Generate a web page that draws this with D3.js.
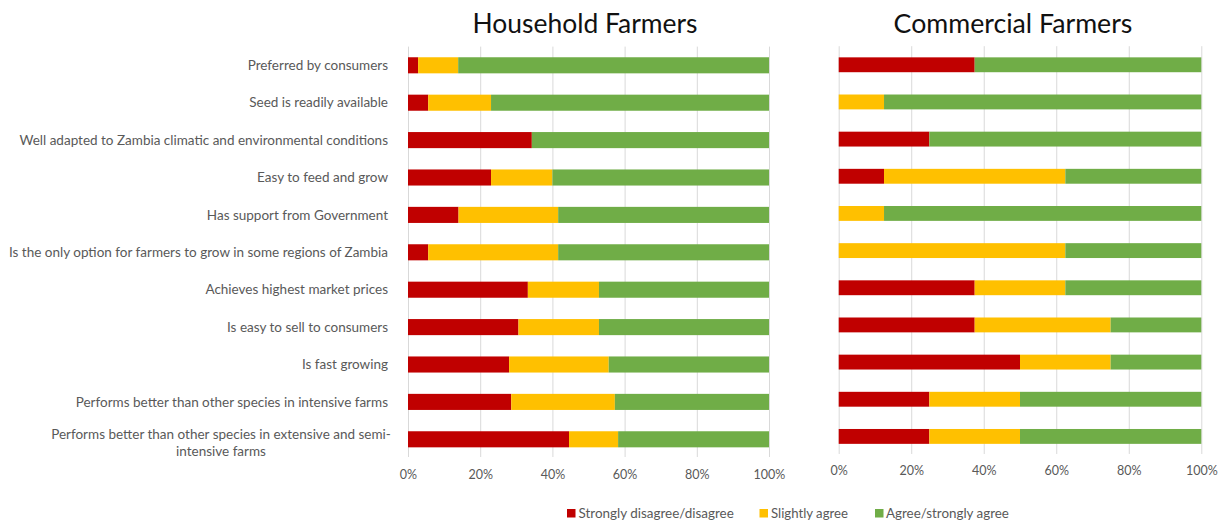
<!DOCTYPE html>
<html>
<head>
<meta charset="utf-8">
<script src="https://cdn.jsdelivr.net/npm/d3@7"></script>
<style>
  html, body { margin: 0; padding: 0; background: #fff; }
  svg { display: block; }
</style>
</head>
<body>
<svg id="chart" width="1227" height="522"></svg>
<script>
// ---------- DATA ----------
const categories = [
  "Preferred by consumers",
  "Seed is readily available",
  "Well adapted to Zambia climatic and environmental conditions",
  "Easy to feed and grow",
  "Has support from Government",
  "Is the only option for farmers to grow in some regions of Zambia",
  "Achieves highest market prices",
  "Is easy to sell to consumers",
  "Is fast growing",
  "Performs better than other species in intensive farms",
  "Performs better than other species in extensive and semi-intensive farms"
];
const seriesNames = ["Strongly disagree/disagree", "Slightly agree", "Agree/strongly agree"];

// Household farmers (%)
const householdDisagree = [2.8, 5.6, 34.3, 23.0, 14.0, 5.6, 33.2, 30.6, 28.0, 28.6, 44.6];
const householdSlightly = [11.1, 17.4, 0.0, 17.0, 27.6, 36.0, 19.7, 22.3, 27.6, 28.7, 13.6];
const householdAgree    = [86.1, 77.0, 65.7, 60.0, 58.4, 58.4, 47.1, 47.1, 44.4, 42.7, 41.8];

// Commercial farmers (%)
const commercialDisagree = [37.5, 0.0, 25.0, 12.5, 0.0, 0.0, 37.5, 37.5, 50.0, 25.0, 25.0];
const commercialSlightly = [0.0, 12.5, 0.0, 50.0, 12.5, 62.5, 25.0, 37.5, 25.0, 25.0, 25.0];
const commercialAgree    = [62.5, 87.5, 75.0, 37.5, 87.5, 37.5, 37.5, 25.0, 25.0, 50.0, 50.0];

const tickValues = [0, 20, 40, 60, 80, 100];
const titles = ["Household Farmers", "Commercial Farmers"];

// ---------- STYLE ----------
const colors = ["#C00000", "#FFC000", "#70AD47"];
const textColor = "#595959";
const gridColor = "#D9D9D9";
const FONT = "Lato, 'Open Sans', 'DejaVu Sans', sans-serif";

const svg = d3.select("#chart");

function buildRows(a, b, c) {
  return categories.map((cat, i) => ({ cat, v: [a[i], b[i], c[i]] }));
}

const panels = [
  { title: titles[0], rows: buildRows(householdDisagree, householdSlightly, householdAgree),
    x0: 408, x1: 769, y0: 46.6, y1: 458, pad: 0.57, tickY: 481, showLabels: true, titleX: 585, titleW: 225 },
  { title: titles[1], rows: buildRows(commercialDisagree, commercialSlightly, commercialAgree),
    x0: 838.7, x1: 1201.3, y0: 46.2, y1: 455, pad: 0.6, tickY: 477, showLabels: false, titleX: 1013, titleW: 239 }
];

const stack = d3.stack().keys([0, 1, 2]).value((d, k) => d.v[k]);

// helper to fit font size to a target width
function fitSize(sel, target, base) {
  const w = sel.node().getComputedTextLength();
  return base * target / w;
}

panels.forEach(p => {
  const x = d3.scaleLinear().domain([0, 100]).range([p.x0, p.x1]);
  const y = d3.scaleBand().domain(categories).range([p.y0, p.y1]).paddingInner(p.pad).paddingOuter(p.pad / 2);

  const g = svg.append("g");

  // gridlines via axis
  const grid = g.append("g")
    .attr("transform", `translate(0,${p.y0})`)
    .call(d3.axisBottom(x).tickValues(tickValues).tickSize(p.y1 - p.y0 - 1).tickFormat(""));
  grid.select(".domain").remove();
  grid.selectAll("line").attr("stroke", gridColor).attr("stroke-width", 1);

  // bars
  const series = stack(p.rows);
  g.selectAll("g.series").data(series).join("g")
    .attr("fill", (d, i) => colors[i])
    .selectAll("rect").data(d => d).join("rect")
      .attr("x", d => x(d[0]))
      .attr("width", d => Math.max(0, x(d[1]) - x(d[0])))
      .attr("y", d => y(d.data.cat))
      .attr("height", y.bandwidth());

  // tick labels via axis
  const ax = g.append("g")
    .attr("transform", `translate(0,${p.tickY - 14})`)
    .call(d3.axisBottom(x).tickValues(tickValues).tickSize(0).tickPadding(0).tickFormat(d => d + "%"));
  ax.select(".domain").remove();
  ax.selectAll("text")
    .attr("fill", textColor)
    .attr("font-family", FONT)
    .attr("font-size", 12.5)
    .attr("dy", "0.95em");

  // title
  const t = g.append("text")
    .attr("x", p.titleX)
    .attr("y", 33)
    .attr("text-anchor", "middle")
    .attr("fill", "#111")
    .attr("font-family", FONT)
    .attr("font-size", 22)
    .text(p.title);
  t.attr("font-size", fitSize(t, p.titleW, 22));

  if (p.showLabels) {
    const lg = g.append("g");
    const probe = lg.append("text").attr("font-family", FONT).attr("font-size", 12)
      .text(categories[2]);
    const labelSize = fitSize(probe, 369, 12);
    probe.remove();

    categories.forEach((cat, i) => {
      const cy = y(cat) + y.bandwidth() / 2;
      if (i === categories.length - 1) {
        const lines = ["Performs better than other species in extensive and semi-", "intensive farms"];
        const tx = lg.append("text")
          .attr("text-anchor", "middle")
          .attr("fill", textColor)
          .attr("font-family", FONT)
          .attr("font-size", labelSize);
        lines.forEach((ln, j) => {
          tx.append("tspan").attr("x", 221).attr("y", cy - 5 + j * 17).attr("dy", "0.35em").text(ln);
        });
      } else {
        lg.append("text")
          .attr("x", 388)
          .attr("y", cy)
          .attr("dy", "0.35em")
          .attr("text-anchor", "end")
          .attr("fill", textColor)
          .attr("font-family", FONT)
          .attr("font-size", labelSize)
          .text(cat);
      }
    });
  }
});

// legend
const legendItems = [
  { name: seriesNames[0], sx: 567, tx: 578.5, tw: 155.5 },
  { name: seriesNames[1], sx: 759.5, tx: 771, tw: 77 },
  { name: seriesNames[2], sx: 875, tx: 886, tw: 123 }
];
const leg = svg.append("g");
legendItems.forEach((it, i) => {
  leg.append("rect").attr("x", it.sx).attr("y", 509).attr("width", 8.5).attr("height", 8.5).attr("fill", colors[i]);
  const lt = leg.append("text")
    .attr("x", it.tx).attr("y", 513.5).attr("dy", "0.35em")
    .attr("fill", textColor).attr("font-family", FONT).attr("font-size", 12.5)
    .text(it.name);
  lt.attr("font-size", fitSize(lt, it.tw, 12.5));
});
</script>
</body>
</html>
